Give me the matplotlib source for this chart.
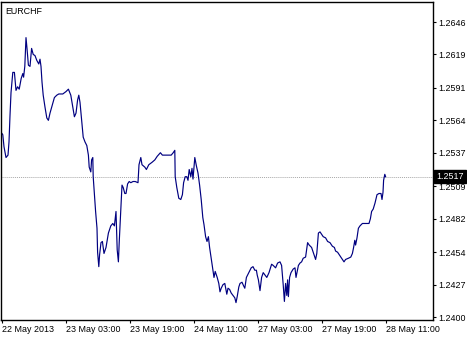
import matplotlib
matplotlib.use('Agg')
import matplotlib.pyplot as plt

# EURCHF, hours counted from 22 May 11:00 (trading hours only)
hours = [0, 0.2, 0.5, 1, 1.5, 1.75, 2, 2.25, 2.7, 3.1, 3.5, 3.9, 4.3, 4.8, 5.2, 5.4, 5.7, 6, 6.25, 6.6,
         7, 7.4, 7.8, 8.25, 8.7, 9.2, 9.5, 9.75, 10, 10.3, 10.75, 11.2, 11.6, 12, 12.6, 13.1, 13.7, 14.2, 15.2, 16,
         16.6, 17.2, 17.7, 18.1, 18.5, 18.9, 19.2, 19.5, 19.9, 20.3, 20.75, 21.2, 21.6, 21.8, 22.2, 22.4, 22.7, 22.8, 23.1, 23.4,
         23.75, 23.9, 24.2, 24.4, 24.75, 25.1, 25.5, 26, 26.6, 27.2, 27.7, 28.1, 28.5, 28.8, 29.1, 29.3, 29.7, 30, 30.3, 30.7,
         31, 31.4, 31.8,
         32.2, 32.75, 33.3, 34, 34.25, 34.7, 35, 35.7, 36.1, 36.7, 37.5, 38.2, 38.8, 39.6, 40.1, 41.1, 42.3, 42.8, 43.2, 43.3,
         43.7, 44.2, 44.7, 45.1, 45.4, 45.8, 46.2, 46.5, 46.8, 47.2, 47.5, 47.75, 48.2, 48.6, 49, 49.4, 49.8, 50.2, 50.5, 50.9,
         51.25, 51.6, 51.9, 52.3, 52.75, 53, 53.3, 53.8, 54.2, 54.5, 54.8, 55.25, 55.7, 56.2, 56.5, 56.9, 57.3, 57.75, 58.2, 58.5,
         58.8, 59.2, 59.5, 60, 60.4, 60.7, 61.1, 61.7, 62.3, 62.75, 63.2, 63.6, 63.8,
         64.1, 64.5, 64.9, 65.3, 65.75, 66.2, 66.75, 67.4, 67.8, 68.4, 68.9, 69.5, 69.9, 70.3, 70.6, 70.9, 71.2, 71.4, 71.6, 71.9,
         72.25, 72.8, 73.25, 73.5, 73.8, 74.1, 74.5, 74.9, 75.3, 75.9, 76.4, 76.8, 77.4, 77.9, 78.4, 78.7, 79.1, 79.5, 79.9, 80.3,
         80.9, 81.4, 82, 82.6, 83.1, 83.4, 83.9, 84.5, 85.1, 85.5, 85.9, 86.6, 87.2, 87.6, 87.9, 88.2, 88.4, 88.75, 89.1, 89.5,
         90.1, 90.75, 91.4, 91.75, 92.1, 92.4, 92.8, 93.25, 93.75, 94.25, 94.75, 95, 95.25, 95.4, 95.7, 95.9]

price = [1.2553, 1.2552, 1.2542, 1.2533, 1.2535, 1.2546, 1.2568, 1.2587, 1.2604, 1.2604, 1.2589, 1.2592, 1.2590, 1.2599, 1.2603, 1.2600, 1.2609, 1.2633, 1.2624, 1.2610,
         1.2609, 1.2624, 1.2619, 1.2618, 1.2614, 1.2611, 1.2615, 1.2609, 1.2596, 1.2585, 1.2575, 1.2566, 1.2564, 1.2570, 1.2577, 1.2583, 1.2585, 1.2586, 1.2586, 1.2588,
         1.2590, 1.2585, 1.2575, 1.2567, 1.2570, 1.2581, 1.2585, 1.2579, 1.2564, 1.2550, 1.2546, 1.2543, 1.2535, 1.2525, 1.2521, 1.2531, 1.2533, 1.2517, 1.2503, 1.2488,
         1.2474, 1.2454, 1.2442, 1.2452, 1.2462, 1.2463, 1.2453, 1.2458, 1.2470, 1.2476, 1.2478, 1.2476, 1.2488, 1.2456, 1.2446, 1.2462, 1.2489, 1.2510, 1.2508, 1.2503,
         1.2503, 1.2511, 1.2513,
         1.2512, 1.2513, 1.2513, 1.2512, 1.2527, 1.2533, 1.2527, 1.2525, 1.2523, 1.2527, 1.2529, 1.2531, 1.2534, 1.2537, 1.2535, 1.2535, 1.2535, 1.2537, 1.2539, 1.2517,
         1.2508, 1.2499, 1.2498, 1.2502, 1.2512, 1.2517, 1.2517, 1.2514, 1.2523, 1.2517, 1.2524, 1.2515, 1.2533, 1.2526, 1.2520, 1.2510, 1.2498, 1.2483, 1.2477, 1.2467,
         1.2463, 1.2467, 1.2458, 1.2449, 1.2439, 1.2433, 1.2438, 1.2433, 1.2428, 1.2421, 1.2424, 1.2427, 1.2428, 1.2419, 1.2424, 1.2423, 1.2420, 1.2418, 1.2416, 1.2412,
         1.2417, 1.2425, 1.2428, 1.2429, 1.2426, 1.2424, 1.2433, 1.2437, 1.2441, 1.2442, 1.2439, 1.2439, 1.2435,
         1.2431, 1.2422, 1.2433, 1.2437, 1.2435, 1.2433, 1.2437, 1.2444, 1.2443, 1.2441, 1.2445, 1.2446, 1.2443, 1.2427, 1.2413, 1.2428, 1.2418, 1.2431, 1.2417, 1.2433,
         1.2437, 1.2440, 1.2441, 1.2433, 1.2438, 1.2443, 1.2445, 1.2446, 1.2449, 1.2450, 1.2462, 1.2460, 1.2458, 1.2453, 1.2448, 1.2453, 1.2470, 1.2471, 1.2469, 1.2467,
         1.2466, 1.2463, 1.2462, 1.2459, 1.2458, 1.2455, 1.2454, 1.2451, 1.2448, 1.2446, 1.2448, 1.2449, 1.2450, 1.2453, 1.2458, 1.2464, 1.2460, 1.2466, 1.2474, 1.2476,
         1.2478, 1.2478, 1.2478, 1.2478, 1.2482, 1.2488, 1.2490, 1.2495, 1.2502, 1.2503, 1.2503, 1.2498, 1.2504, 1.2514, 1.2519, 1.2517]

symbol = 'EURCHF'
last_price = 1.2517
price_ticks = [1.2646, 1.2619, 1.2591, 1.2564, 1.2537, 1.2509, 1.2482, 1.2454, 1.2427, 1.2400]
time_ticks = [0, 16, 32, 48, 64, 80, 96]
time_labels = ['22 May 2013', '23 May 03:00', '23 May 19:00', '24 May 11:00',
               '27 May 03:00', '27 May 19:00', '28 May 11:00']

plt.rcParams['font.family'] = ['Liberation Sans', 'DejaVu Sans']
fs = 6.4

fig = plt.figure(figsize=(4.67, 3.38), dpi=100)
ax = fig.add_axes([1/467, 18/338, 432/467, 318/338])

ax.plot(hours, price, color='#000080', linewidth=0.85)
ax.axhline(last_price, color='#a8a8a8', linewidth=0.7, linestyle=(0, (1, 1)), zorder=0)

ax.set_xlim(-0.25, 107.75)
ax.set_ylim(1.23975, 1.26627)

ax.yaxis.tick_right()
ax.set_yticks(price_ticks)
ax.set_yticklabels(['%.4f' % p for p in price_ticks])
ax.set_xticks(time_ticks)
ax.set_xticklabels(time_labels, ha='left')
ax.tick_params(axis='both', direction='out', length=2.2, width=0.8, labelsize=fs, colors='black', pad=1.5)

for s in ax.spines.values():
  s.set_linewidth(1)
  s.set_color('black')

# current price box on the axis
ax.text(1.0075, last_price, '%.4f' % last_price, transform=ax.get_yaxis_transform(),
        ha='left', va='center', fontsize=fs, color='white',
        bbox=dict(boxstyle='square,pad=0.2', facecolor='black', edgecolor='black'))

ax.text(0.009, 0.985, symbol, transform=ax.transAxes, ha='left', va='top', fontsize=fs, color='black')

fig.savefig('out.png', dpi=100)
